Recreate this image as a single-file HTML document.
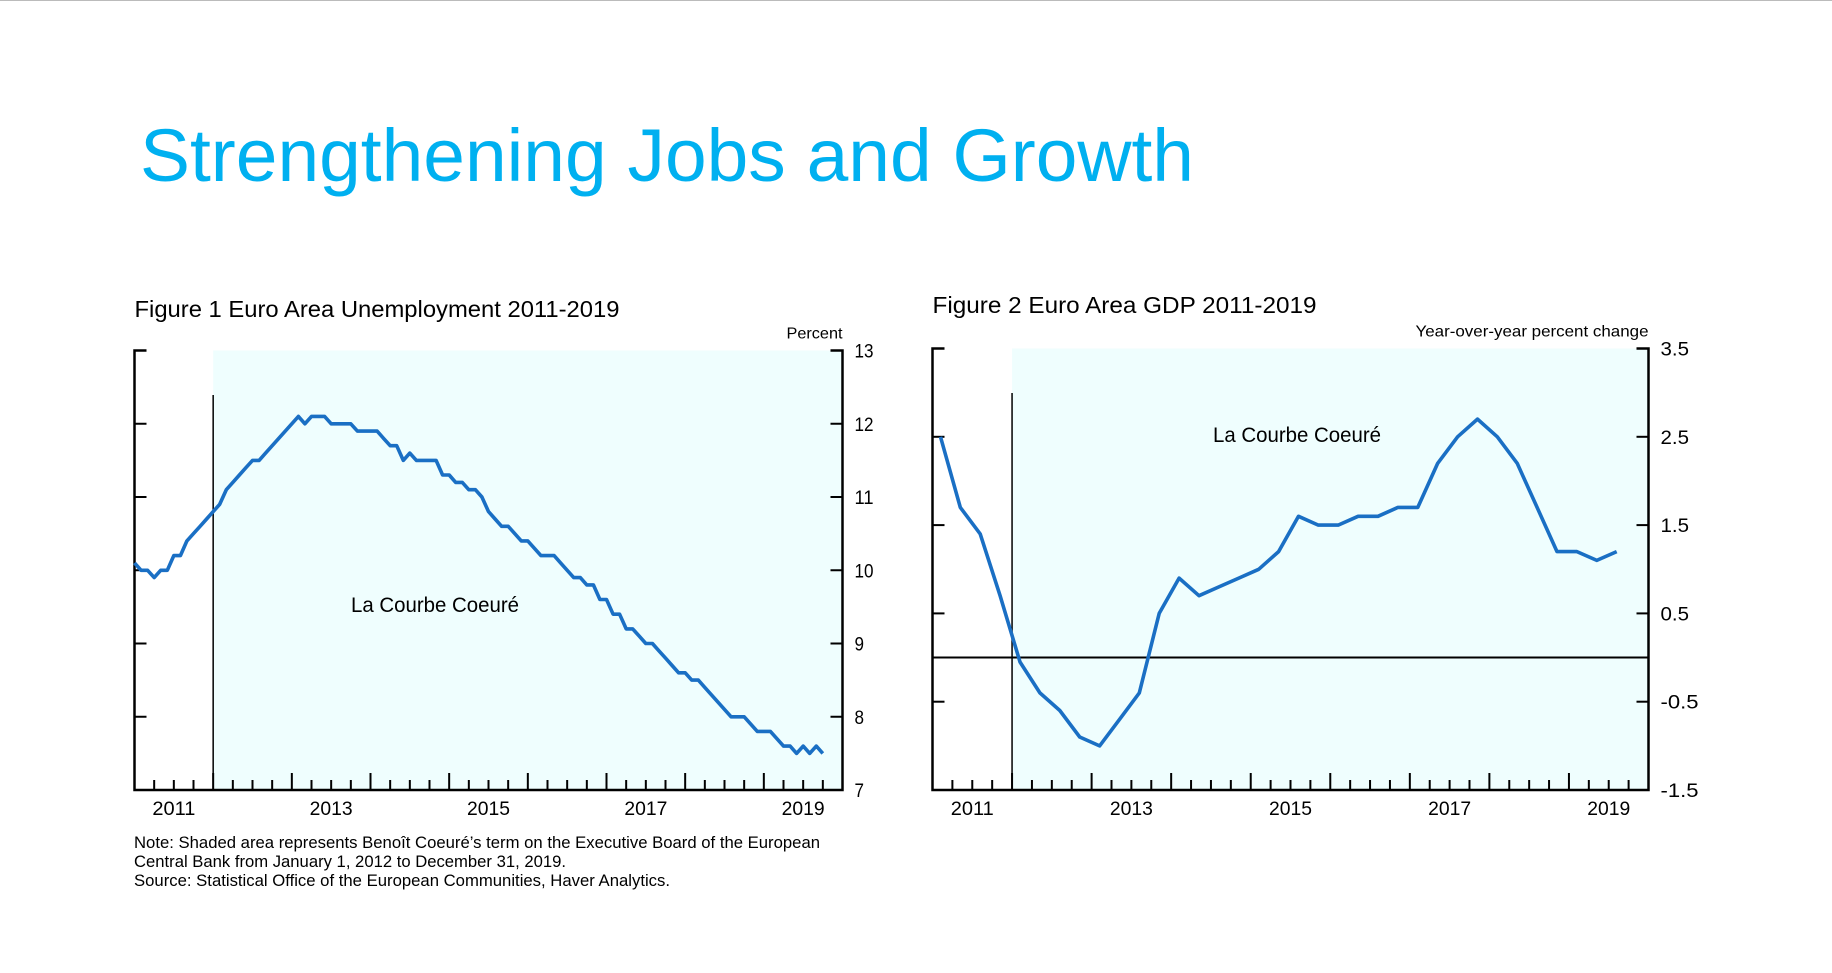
<!DOCTYPE html>
<html><head><meta charset="utf-8"><style>
html,body{margin:0;padding:0;background:#fff;}
svg{display:block;font-family:"Liberation Sans",sans-serif;}
</style></head><body>
<svg id="root" width="1832" height="973" viewBox="0 0 1832 973" xmlns="http://www.w3.org/2000/svg">
<line x1="0" y1="0.5" x2="1832" y2="0.5" stroke="#bbb" stroke-width="1"/>
<text x="140" y="181" font-size="74" fill="#00b0f0" textLength="1054" lengthAdjust="spacingAndGlyphs">Strengthening Jobs and Growth</text>
<g id="c1"></g>
<g id="c2"></g>
<text x="134" y="848" font-size="16.5" fill="#000" textLength="686" lengthAdjust="spacingAndGlyphs">Note: Shaded area represents Benoît Coeuré’s term on the Executive Board of the European</text>
<text x="134" y="867" font-size="16.5" fill="#000" textLength="432" lengthAdjust="spacingAndGlyphs">Central Bank from January 1, 2012 to December 31, 2019.</text>
<text x="134" y="886" font-size="16.5" fill="#000" textLength="536" lengthAdjust="spacingAndGlyphs">Source: Statistical Office of the European Communities, Haver Analytics.</text>
</svg>
<script>
const yearLabels = ["2011","2013","2015","2017","2019"];
const unempTicks = [7,8,9,10,11,12,13];
const unempValues = [10.1,10.0,10.0,9.9,10.0,10.0,10.2,10.2,10.4,10.5,10.6,10.7,10.8,10.9,11.1,11.2,11.3,11.4,11.5,11.5,11.6,11.7,11.8,11.9,12.0,12.1,12.0,12.1,12.1,12.1,12.0,12.0,12.0,12.0,11.9,11.9,11.9,11.9,11.8,11.7,11.7,11.5,11.6,11.5,11.5,11.5,11.5,11.3,11.3,11.2,11.2,11.1,11.1,11.0,10.8,10.7,10.6,10.6,10.5,10.4,10.4,10.3,10.2,10.2,10.2,10.1,10.0,9.9,9.9,9.8,9.8,9.6,9.6,9.4,9.4,9.2,9.2,9.1,9.0,9.0,8.9,8.8,8.7,8.6,8.6,8.5,8.5,8.4,8.3,8.2,8.1,8.0,8.0,8.0,7.9,7.8,7.8,7.8,7.7,7.6,7.6,7.5,7.6,7.5,7.6,7.5];
const gdpTicks = [-1.5,-0.5,0.5,1.5,2.5,3.5];
const gdpTickLabels = ["-1.5","-0.5","0.5","1.5","2.5","3.5"];
const gdpValues = [2.5,1.7,1.4,0.7,-0.05,-0.4,-0.6,-0.9,-1.0,-0.7,-0.4,0.5,0.9,0.7,0.8,0.9,1.0,1.2,1.6,1.5,1.5,1.6,1.6,1.7,1.7,2.2,2.5,2.7,2.5,2.2,1.7,1.2,1.2,1.1,1.2];

const NS="http://www.w3.org/2000/svg";
function mk(parent,tag,attrs,text){const e=document.createElementNS(NS,tag);for(const k in attrs)e.setAttribute(k,attrs[k]);if(text!==undefined)e.textContent=text;parent.appendChild(e);return e;}

function chart(g,cfg){
  const L=cfg.left,R=cfg.right,T=cfg.top,B=cfg.bottom;
  const x=t=>L+(t-2011)/9*(R-L);
  const y=v=>B-(v-cfg.ymin)/(cfg.ymax-cfg.ymin)*(B-T);
  const shade=mk(g,'rect',{x:x(2012),y:T,width:R-x(2012),height:B-T,fill:'#effefe'});
  
  
  const vl=mk(g,'line',{x1:x(2012),y1:cfg.vtop,x2:x(2012),y2:B,stroke:'#000','stroke-width':1.5});
  
  
  if(cfg.zero){const z=mk(g,'line',{x1:L,y1:y(0),x2:R,y2:y(0),stroke:'#000','stroke-width':2});
    
    }
  const ax=mk(g,'path',{d:`M${L+12},${T}H${L}V${B}H${R}V${T}H${R-12}`,fill:'none',stroke:'#000','stroke-width':2.5});
  
  
  for(let q=1;q<36;q++){const t=2011+q/4;const major=q%4===0;
    const tk=mk(g,'line',{x1:x(t),y1:B,x2:x(t),y2:B-(major?17:10),stroke:'#000','stroke-width':2});
    
    }
  yearLabels.forEach(s=>{const t=+s+0.5;
    const tl=mk(g,'text',{x:x(t),y:B+25,'font-size':19,'text-anchor':'middle',textLength:43,lengthAdjust:'spacingAndGlyphs'},s);
    
    });
  cfg.ticks.forEach((v,i)=>{
    if(i>0&&i<cfg.ticks.length-1){
      const a=mk(g,'line',{x1:L,y1:y(v),x2:L+12,y2:y(v),stroke:'#000','stroke-width':2});
      
      
      const b=mk(g,'line',{x1:R-12,y1:y(v),x2:R,y2:y(v),stroke:'#000','stroke-width':2});
      
      }
    const lab=cfg.labels[i];
    const tl=mk(g,'text',{x:R+12,y:y(v)+7,'font-size':19,textLength:lab.length*9.5,lengthAdjust:'spacingAndGlyphs'},lab);
    
    });
  const pts=cfg.values.map((v,i)=>`${x(cfg.t0+i*cfg.dt).toFixed(1)},${y(v).toFixed(1)}`).join(' ');
  const pl=mk(g,'polyline',{points:pts,fill:'none',stroke:'#1a6fc4','stroke-width':3.6,'stroke-linejoin':'round'});
  
  
  const ti=mk(g,'text',{x:L,y:cfg.titleY,'font-size':23,textLength:cfg.titleW,lengthAdjust:'spacingAndGlyphs'},cfg.title);
  
  
  const un=mk(g,'text',{x:R,y:T-12,'font-size':16,'text-anchor':'end',textLength:cfg.unitW,lengthAdjust:'spacingAndGlyphs'},cfg.unit);
  
  
  const an=mk(g,'text',{x:cfg.annX,y:cfg.annY,'font-size':21,'text-anchor':'middle',textLength:168,lengthAdjust:'spacingAndGlyphs'},'La Courbe Coeuré');
  
  
}
chart(document.getElementById('c1'),{left:134.5,right:842.5,top:350.5,bottom:790,ymin:7,ymax:13,vtop:395,
  ticks:unempTicks,labels:unempTicks.map(String),values:unempValues,t0:2011,dt:1/12,
  title:'Figure 1  Euro Area Unemployment 2011-2019',titleY:317,titleW:485,unit:'Percent',unitW:56,annX:435,annY:612});
chart(document.getElementById('c2'),{left:932.5,right:1648.5,top:348.5,bottom:790,ymin:-1.5,ymax:3.5,vtop:393,zero:true,
  ticks:gdpTicks,labels:gdpTickLabels,values:gdpValues,t0:2011.1,dt:0.25,
  title:'Figure 2  Euro Area GDP 2011-2019',titleY:313,titleW:384,unit:'Year-over-year percent change',unitW:233,annX:1297,annY:442});
</script>
</body></html>
